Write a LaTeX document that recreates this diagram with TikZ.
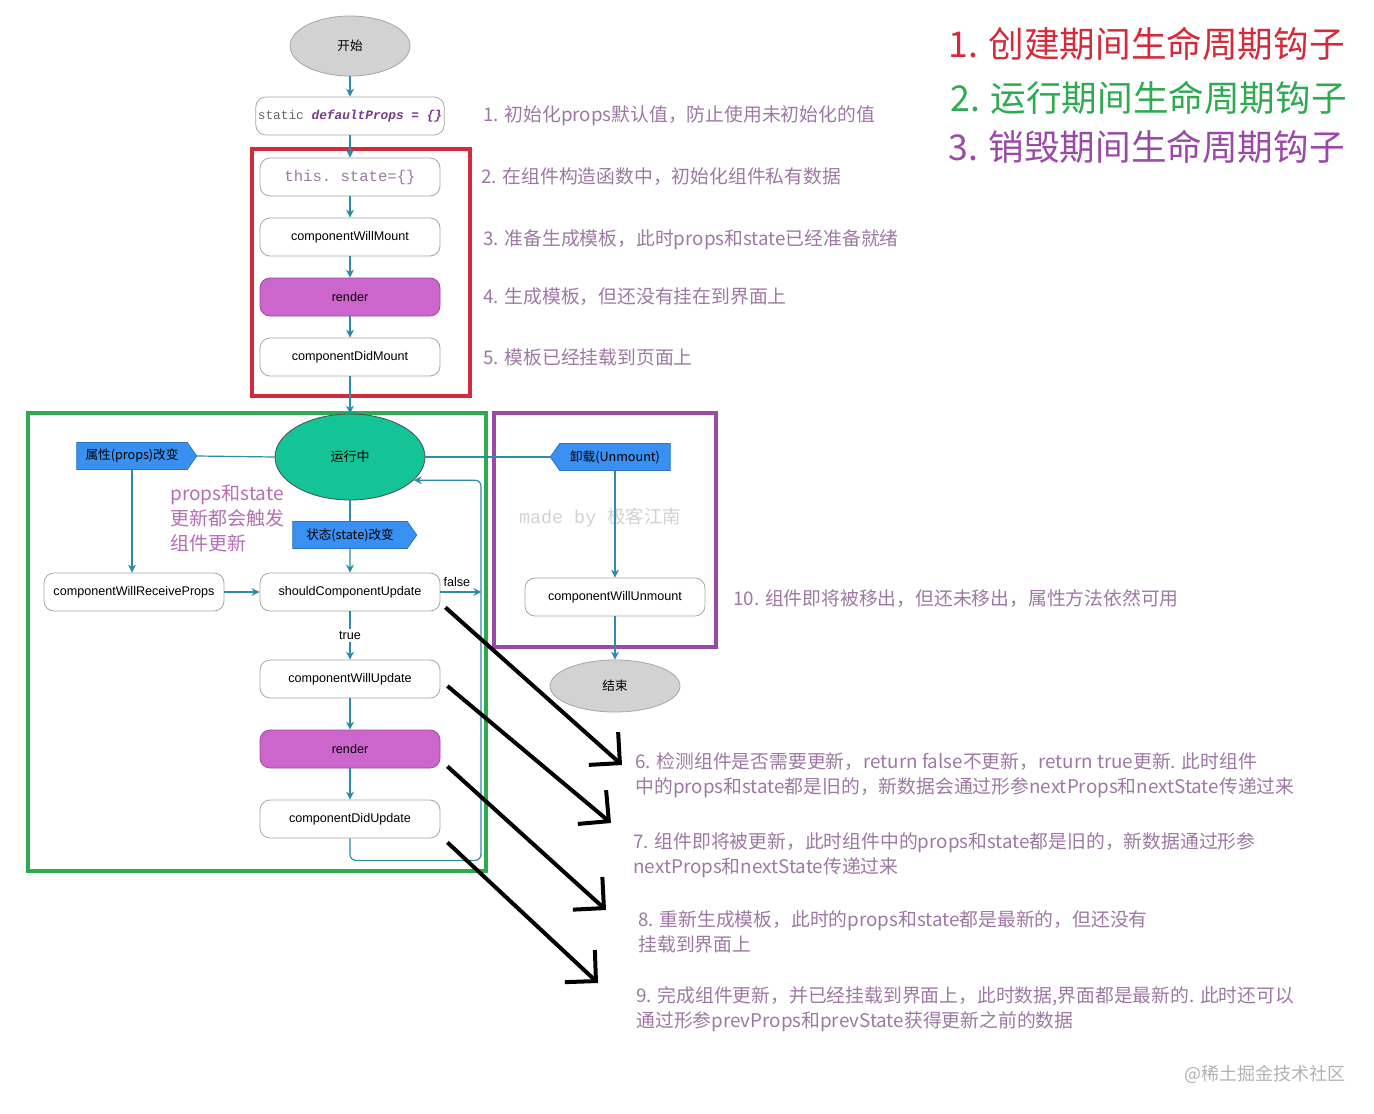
\documentclass[tikz,border=0pt]{standalone}
\usepackage{fontspec}
\setmainfont{Liberation Sans}
\setmonofont{Liberation Mono}
\newfontfamily\cjk{Noto Sans CJK SC}
\usepackage{tikz}
\usetikzlibrary{
  arrows.meta, shapes.geometric, shapes.symbols,
  positioning, calc
}
\usepackage{xcolor}
\definecolor{flowcol}{HTML}{2E8CA8}
\definecolor{rendercol}{HTML}{CC66CC}
\definecolor{runcol}{HTML}{14C497}
\definecolor{trigcol}{HTML}{3A90F0}
\definecolor{annocol}{HTML}{9E78A4}
\definecolor{dpcol}{HTML}{7A3A8A}
\definecolor{createcol}{HTML}{D42A3A}
\definecolor{runningcol}{HTML}{2EAA50}
\definecolor{destroycol}{HTML}{9A4AA6}
\tikzset{
  hook/.style={
    rectangle, rounded corners=5pt, draw=gray!70, fill=white,
    minimum width=90pt, minimum height=19pt, inner sep=1pt,
    align=center, font=\fontsize{6.3}{8}\selectfont
  },
  renderbox/.style={hook, fill=rendercol, draw=rendercol!75!black},
  terminal/.style={
    ellipse, draw=gray!70, fill=gray!35, inner sep=0pt,
    minimum width=60pt, minimum height=30pt,
    font=\cjk\fontsize{6.3}{8}\selectfont
  },
  trigger/.style={
    signal, signal to=#1, signal pointer angle=110,
    draw=trigcol!80!black, fill=trigcol, inner sep=1pt,
    minimum width=60pt, minimum height=13.5pt,
    font=\cjk\fontsize{6.3}{8}\selectfont
  },
  flow/.style={-{Stealth[length=4pt,width=4pt]}, draw=flowcol, semithick},
  link/.style={draw=flowcol, semithick},
  frame/.style={draw=#1, line width=2pt},
  note/.style={anchor=west, align=left, text=annocol, inner sep=0pt,
    font=\cjk\fontsize{9.4}{12.5}\selectfont},
  legend/.style={anchor=west, inner sep=0pt, font=\cjk\fontsize{17.8}{20}\selectfont},
  hand/.style={-{Straight Barb[length=11pt,width=22pt]}, line width=2pt, black}
}

\begin{document}
\begin{tikzpicture}[x=0.5pt, y=-0.5pt]

\fill[white] (0,0) rectangle (1374,1113);
\useasboundingbox (0,0) rectangle (1374,1113);

% phase frames
\draw[frame=createcol] (252,149) rectangle (470,396);
\draw[frame=runningcol] (28,413) rectangle (486,871);
\draw[frame=destroycol] (494,413) rectangle (716,647);

% creation
\node[terminal] (start) at (350,46) {开始};
\node[hook, font=\ttfamily\fontsize{6.4}{8}\selectfont] (defprops) at (350,116)
  {\textcolor{gray!80!black}{static} \textcolor{dpcol}{\textbf{\textit{defaultProps = \{\}}}}};
\node[hook, text=annocol, font=\ttfamily\fontsize{7.8}{9}\selectfont] (initstate) at (350,177) {this. state=\{\}};
\node[hook] (willmount) at (350,237) {componentWillMount};
\node[renderbox] (render1) at (350,297) {render};
\node[hook] (didmount) at (350,357) {componentDidMount};

% running
\node[ellipse, draw=gray!60!black, fill=runcol, inner sep=0pt,
      minimum width=75pt, minimum height=43pt,
      font=\cjk\fontsize{6.5}{8}\selectfont] (run) at (350,457) {运行中};
\node[trigger=east] (propchg) at (132,456) {属性(props)改变};
\node[trigger=east, minimum width=62pt] (statechg) at (350,535) {状态(state)改变};
\node[hook] (recvprops) at (134,592) {componentWillReceiveProps};
\node[hook] (shouldupd) at (350,592) {shouldComponentUpdate};
\node[hook] (willupd) at (350,679) {componentWillUpdate};
\node[renderbox] (render2) at (350,749) {render};
\node[hook] (didupd) at (350,819) {componentDidUpdate};
\node[anchor=west, align=left, inner sep=0pt, text=rendercol!70!gray,
      font=\cjk\fontsize{9.5}{12.5}\selectfont] (trignote) at (170,518)
  {props和state\\更新都会触发\\组件更新};

% unmount
\node[trigger=west] (unmount) at (615,457) {卸载(Unmount)};
\node[hook] (willunmount) at (615,597) {componentWillUnmount};
\node[terminal, minimum width=65pt, minimum height=26pt] (finish) at (615,686) {结束};
\node[text=gray!35, font=\fontsize{9.2}{12}\selectfont] (mark) at (600,518)
  {\ttfamily made by \cjk 极客江南};

% connectors
\draw[flow] (start) -- (defprops);
\draw[flow] (defprops) -- (initstate);
\draw[flow] (initstate) -- (willmount);
\draw[flow] (willmount) -- (render1);
\draw[flow] (render1) -- (didmount);
\draw[flow] (didmount) -- (run);
\draw[link] (propchg.east) -- (run.west);
\draw[flow] (propchg.south) -- (propchg.south |- recvprops.north);
\draw[link] (run.south) -- (statechg.north);
\draw[flow] (statechg) -- (shouldupd);
\draw[flow] (recvprops) -- (shouldupd);
\draw[flow] (shouldupd.east) -- node[above=-1pt, pos=0.4, font=\fontsize{6.3}{8}\selectfont]{false} ++(41,0);
\draw[flow] (shouldupd) -- node[fill=white, inner sep=1pt, font=\fontsize{6.3}{8}\selectfont]{true} (willupd);
\draw[flow] (willupd) -- (render2);
\draw[flow] (render2) -- (didupd);
\draw[flow, rounded corners=3pt] (didupd.south) -- ++(0,22) -- ++(131,0) |- (run.-20);
\draw[link] (run.east) -- (unmount.west);
\draw[flow] (unmount.south) -- (willunmount.north);
\draw[flow] (willunmount) -- (finish);

% notes
\node[note] (n1) at (483,116) {1. 初始化props默认值，防止使用未初始化的值};
\node[note] (n2) at (481,177) {2. 在组件构造函数中，初始化组件私有数据};
\node[note] (n3) at (483,240) {3. 准备生成模板，此时props和state已经准备就绪};
\node[note] (n4) at (483,297) {4. 生成模板，但还没有挂在到界面上};
\node[note] (n5) at (483,357) {5. 模板已经挂载到页面上};
\node[note] (n10) at (733,599) {10. 组件即将被移出，但还未移出，属性方法依然可用};
\node[note] (n6) at (635,775.5) {6. 检测组件是否需要更新，return false不更新，return true更新. 此时组件\\中的props和state都是旧的，新数据会通过形参nextProps和nextState传递过来};
\node[note] (n7) at (633,855.5) {7. 组件即将被更新，此时组件中的props和state都是旧的，新数据通过形参\\nextProps和nextState传递过来};
\node[note] (n8) at (638,931.5) {8. 重新生成模板，此时的props和state都是最新的，但还没有\\挂载到界面上};
\node[note] (n9) at (636,1009.5) {9. 完成组件更新，并已经挂载到界面上，此时数据,界面都是最新的. 此时还可以\\通过形参prevProps和prevState获得更新之前的数据};

% hand drawn pointers
\draw[hand] ([shift={(5,-4)}]shouldupd.south east) -- ([shift={(-13,-10.5)}]n6.west);
\draw[hand] ([shift={(7,7)}]willupd.east) -- ([shift={(-22,-32.5)}]n7.west);
\draw[hand] ([shift={(7,-2)}]render2.south east) -- ([shift={(-32,-21.5)}]n8.west);
\draw[hand] ([shift={(7,4)}]didupd.south east) -- ([shift={(-38,-26.5)}]n9.west);

% legend
\node[legend, text=createcol] (lg1) at (948,44) {1. 创建期间生命周期钩子};
\node[legend, text=runningcol] (lg2) at (950,98) {2. 运行期间生命周期钩子};
\node[legend, text=destroycol] (lg3) at (948,147) {3. 销毁期间生命周期钩子};

\node[text=gray!60, font=\cjk\fontsize{9}{11}\selectfont] (site) at (1265,1074) {@稀土掘金技术社区};

\end{tikzpicture}
\end{document}
